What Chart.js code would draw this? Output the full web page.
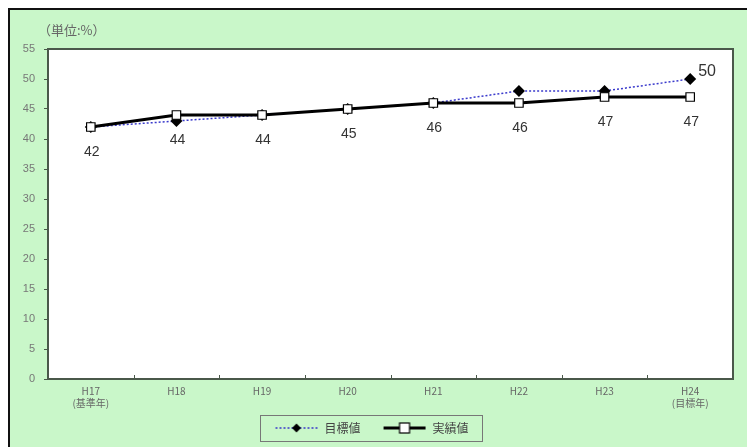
<!DOCTYPE html>
<html>
<head>
<meta charset="utf-8">
<script src="https://cdn.jsdelivr.net/npm/chart.js@4"></script>
<style>
  html, body { margin: 0; padding: 0; background: #ffffff; }
  #frame { position: absolute; left: 8px; top: 8px; width: 737px; height: 437px;
           border-top: 2px solid #111; border-left: 2px solid #111; background: #c9f7c9; }
  #c { display: block; }
</style>
</head>
<body>
<div id="frame"><canvas id="c" width="737" height="437"></canvas></div>
<script>
const categories = [["H17", "(基準年)"], "H18", "H19", "H20", "H21", "H22", "H23", ["H24", "(目標年)"]];
const targetValues = [42, 43, 44, 45, 46, 48, 48, 50];
const actualValues = [42, 44, 44, 45, 46, 46, 47, 47];
const yTicks = [0, 5, 10, 15, 20, 25, 30, 35, 40, 45, 50, 55];
const seriesNames = ["目標値", "実績値"];
const unitLabel = "（単位:%）";

function makeIcon(kind) {
  const cv = document.createElement('canvas');
  cv.width = 44; cv.height = 12;
  const g = cv.getContext('2d');
  if (kind === 'target') {
    g.strokeStyle = '#3a3acc'; g.lineWidth = 1.5; g.setLineDash([2, 2]);
    g.beginPath(); g.moveTo(1, 6); g.lineTo(43, 6); g.stroke();
    g.fillStyle = '#000';
    g.beginPath(); g.moveTo(22, 1.5); g.lineTo(26.5, 6); g.lineTo(22, 10.5); g.lineTo(17.5, 6); g.closePath(); g.fill();
  } else {
    g.strokeStyle = '#000'; g.lineWidth = 3;
    g.beginPath(); g.moveTo(1, 6); g.lineTo(43, 6); g.stroke();
    g.fillStyle = '#fff'; g.lineWidth = 1.2;
    g.fillRect(17, 1, 10, 10); g.strokeRect(17, 1, 10, 10);
  }
  return cv;
}
const icons = [makeIcon('target'), makeIcon('actual')];

const extras = {
  id: 'extras',
  beforeLayout(chart) {
    const lg = chart.legend;
    if (lg && !lg._fixedFit) {
      const orig = lg.fit;
      lg.fit = function () { orig.call(this); this.height = 35; };
      lg._fixedFit = true;
    }
  },
  beforeDraw(chart) {
    const { ctx, chartArea } = chart;
    ctx.save();
    ctx.fillStyle = '#ffffff';
    ctx.fillRect(chartArea.left, chartArea.top, chartArea.right - chartArea.left, chartArea.bottom - chartArea.top);
    ctx.restore();
  },
  afterDraw(chart) {
    const { ctx, chartArea } = chart;
    ctx.save();
    const xs = chart.scales.x;
    ctx.strokeStyle = '#4a584a'; ctx.lineWidth = 1;
    for (let i = 1; i < categories.length; i++) {
      const bx = Math.round((xs.getPixelForTick(i - 1) + xs.getPixelForTick(i)) / 2) + 0.5;
      ctx.beginPath(); ctx.moveTo(bx, chartArea.bottom); ctx.lineTo(bx, chartArea.bottom - 4); ctx.stroke();
    }
    ctx.strokeStyle = '#4a584a'; ctx.lineWidth = 2;
    ctx.strokeRect(chartArea.left, chartArea.top, chartArea.right - chartArea.left, chartArea.bottom - chartArea.top);
    ctx.fillStyle = '#666'; ctx.font = '13px "Noto Sans CJK JP"';
    ctx.textAlign = 'left'; ctx.textBaseline = 'middle';
    ctx.fillText(unitLabel, 28, 20);
    ctx.fillStyle = '#333'; ctx.font = '14px "Liberation Sans", Arial';
    ctx.textAlign = 'center';
    const meta = chart.getDatasetMeta(1);
    meta.data.forEach((p, i) => {
      ctx.fillText(String(actualValues[i]), p.x + 1, p.y + 25);
    });
    const tm = chart.getDatasetMeta(0);
    const last = tm.data[tm.data.length - 1];
    ctx.font = '16px "Liberation Sans", Arial';
    ctx.textAlign = 'left';
    ctx.fillText(String(targetValues[targetValues.length - 1]), last.x + 8, last.y - 7);
    const lg = chart.legend;
    if (lg && lg.legendHitBoxes && lg.legendHitBoxes.length) {
      const hb = lg.legendHitBoxes;
      const x0 = hb[0].left - 14, x1 = hb[hb.length - 1].left + hb[hb.length - 1].width + 14;
      const y0 = hb[0].top - 7, y1 = hb[0].top + hb[0].height + 7;
      ctx.strokeStyle = '#777'; ctx.lineWidth = 1;
      ctx.strokeRect(Math.round(x0) + 0.5, Math.round(y0) + 0.5, Math.round(x1 - x0), Math.round(y1 - y0));
    }
    ctx.restore();
  }
};

new Chart(document.getElementById('c'), {
  type: 'line',
  data: {
    labels: categories,
    datasets: [
      {
        label: seriesNames[0],
        data: targetValues,
        borderColor: '#3a3acc',
        borderWidth: 1.5,
        borderDash: [2, 2],
        pointStyle: 'rectRot',
        pointRadius: 6,
        pointBackgroundColor: '#000',
        pointBorderColor: '#000',
        pointBorderWidth: 0,
        tension: 0,
        order: 2
      },
      {
        label: seriesNames[1],
        data: actualValues,
        borderColor: '#000',
        borderWidth: 3,
        pointStyle: 'rect',
        pointRadius: 6,
        pointBackgroundColor: '#fff',
        pointBorderColor: '#000',
        pointBorderWidth: 1.2,
        tension: 0,
        order: 1
      }
    ]
  },
  options: {
    responsive: false,
    animation: false,
    layout: { padding: { top: 39, right: 14, left: 0, bottom: 0 } },
    plugins: {
      legend: {
        position: 'bottom',
        labels: {
          usePointStyle: true,
          pointStyleWidth: 44,
          boxHeight: 12,
          color: '#444',
          font: { family: '"Noto Sans CJK JP"', size: 12 },
          padding: 10,
          generateLabels(chart) {
            return chart.data.datasets.map((d, i) => ({
              text: i === 0 ? d.label + '\u3000' : d.label,
              pointStyle: icons[i],
              fillStyle: 'transparent',
              strokeStyle: 'transparent',
              lineWidth: 0,
              fontColor: '#444',
              datasetIndex: i,
              hidden: false
            }));
          }
        }
      },
      tooltip: { enabled: false }
    },
    scales: {
      x: {
        offset: true,
        grid: { display: false, drawTicks: false },
        border: { display: false },
        ticks: { color: '#666', font: { family: '"Noto Sans CJK JP"', size: 10 }, maxRotation: 0, autoSkip: false, padding: 6 },
        afterFit(s) { s.height = 33; }
      },
      y: {
        min: 0, max: 55,
        afterBuildTicks(s) { s.ticks = yTicks.map(v => ({ value: v })); },
        grid: { display: true, drawOnChartArea: false, tickLength: 4, color: '#4a584a' },
        border: { display: false },
        ticks: { color: '#777', font: { family: '"Liberation Sans", Arial', size: 11 }, padding: 9 },
        afterFit(s) { s.width = 38; }
      }
    }
  },
  plugins: [extras]
});
</script>
</body>
</html>
